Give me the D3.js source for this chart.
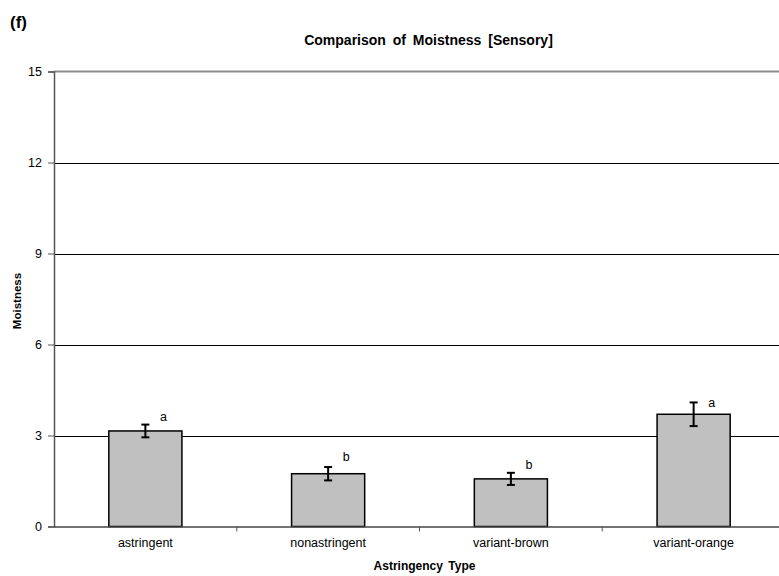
<!DOCTYPE html>
<html>
<head>
<meta charset="utf-8">
<script src="https://cdn.jsdelivr.net/npm/d3@7"></script>
<style>
  html, body { margin: 0; padding: 0; background: #fff; }
  svg { display: block; }
  text { font-family: Arial, "Liberation Sans", sans-serif; fill: #000; }
</style>
</head>
<body>
<svg id="chart" width="779" height="576"></svg>
<script>
// ---- data ----
const categories = ["astringent", "nonastringent", "variant-brown", "variant-orange"];
const means = [3.15, 1.74, 1.57, 3.70];
const errors = [0.21, 0.22, 0.20, 0.39];
const sigLetters = ["a", "b", "b", "a"];
const sigLetterY = [3.48, 2.17, 1.89, 3.94];
const yTicks = [0, 3, 6, 9, 12, 15];
const title = "Comparison of Moistness [Sensory]";
const panelLabel = "(f)";
const xTitle = "Astringency Type";
const yTitle = "Moistness";

// ---- layout ----
const svg = d3.select("#chart");
const plot = { left: 54, right: 785, top: 71.5, bottom: 526.5 };

const x = d3.scaleBand()
  .domain(categories)
  .range([plot.left, plot.right])
  .paddingInner(0.6)
  .paddingOuter(0.3);

const y = d3.scaleLinear().domain([0, 15]).range([plot.bottom, plot.top]);

// gridlines
svg.append("g")
  .selectAll("line")
  .data(yTicks.filter(t => t > 0 && t < 15))
  .join("line")
  .attr("x1", plot.left).attr("x2", 779)
  .attr("y1", d => Math.round(y(d)) + 0.5).attr("y2", d => Math.round(y(d)) + 0.5)
  .attr("stroke", "#000").attr("stroke-width", 1);

// top border line
svg.append("line")
  .attr("x1", plot.left).attr("x2", 779)
  .attr("y1", y(15)).attr("y2", y(15))
  .attr("stroke", "#8c8c8c").attr("stroke-width", 2);

// bars
svg.append("g")
  .selectAll("rect")
  .data(categories)
  .join("rect")
  .attr("x", d => x(d))
  .attr("width", x.bandwidth())
  .attr("y", (d, i) => y(means[i]))
  .attr("height", (d, i) => y(0) - y(means[i]))
  .attr("fill", "#c0c0c0")
  .attr("stroke", "#000")
  .attr("stroke-width", 1.5);

// error bars
const eb = svg.append("g").attr("stroke", "#000").attr("stroke-width", 2);
categories.forEach((c, i) => {
  const cx = x(c) + x.bandwidth() / 2;
  const y1 = y(means[i] + errors[i]);
  const y2 = y(means[i] - errors[i]);
  eb.append("line").attr("x1", cx).attr("x2", cx).attr("y1", y1).attr("y2", y2);
  eb.append("line").attr("x1", cx - 4).attr("x2", cx + 4).attr("y1", y1).attr("y2", y1);
  eb.append("line").attr("x1", cx - 4).attr("x2", cx + 4).attr("y1", y2).attr("y2", y2);
});

// significance letters
svg.append("g")
  .selectAll("text")
  .data(categories)
  .join("text")
  .attr("x", d => x(d) + x.bandwidth() / 2 + 18)
  .attr("y", (d, i) => y(sigLetterY[i]))
  .attr("text-anchor", "middle")
  .style("font-size", "12.5px")
  .style("fill", "#000")
  .text((d, i) => sigLetters[i]);

// y axis
const yAxis = svg.append("g")
  .attr("transform", `translate(${plot.left},0)`)
  .call(d3.axisLeft(y).tickValues(yTicks).tickSize(6).tickPadding(6).tickFormat(d3.format("d")));
yAxis.select(".domain").attr("stroke", "#555").attr("stroke-width", 1.5);
yAxis.selectAll(".tick line").attr("stroke", "#555");
yAxis.selectAll(".tick text").style("font-size", "12.5px").style("font-family", "Arial, 'Liberation Sans', sans-serif").attr("fill", "#000");

// x axis
const xAxis = svg.append("g")
  .attr("transform", `translate(0,${plot.bottom})`)
  .call(d3.axisBottom(x).tickSize(0).tickPadding(12));
xAxis.select(".domain").attr("stroke", "#444").attr("stroke-width", 1.5);
xAxis.selectAll(".tick text").style("font-size", "12.5px").style("font-family", "Arial, 'Liberation Sans', sans-serif").attr("fill", "#000");

// category separator ticks
const step = x.step();
svg.append("g")
  .selectAll("line")
  .data(categories.slice(1))
  .join("line")
  .attr("x1", d => x(d) - (step - x.bandwidth()) / 2)
  .attr("x2", d => x(d) - (step - x.bandwidth()) / 2)
  .attr("y1", plot.bottom).attr("y2", plot.bottom + 5)
  .attr("stroke", "#555").attr("stroke-width", 1);

// titles
svg.append("text")
  .attr("x", 10).attr("y", 28)
  .style("font-size", "17px").style("font-weight", "bold")
  .text(panelLabel);

svg.append("text")
  .attr("x", 428.5).attr("y", 45)
  .attr("text-anchor", "middle")
  .style("font-size", "14px").style("font-weight", "bold")
  .style("word-spacing", "3px")
  .text(title);

svg.append("text")
  .attr("x", 424.5).attr("y", 570)
  .attr("text-anchor", "middle")
  .style("font-size", "12px").style("font-weight", "bold")
  .style("word-spacing", "2px")
  .text(xTitle);

svg.append("text")
  .attr("transform", "translate(21,301) rotate(-90)")
  .attr("text-anchor", "middle")
  .style("font-size", "11.5px").style("font-weight", "bold")
  .text(yTitle);
</script>
</body>
</html>
